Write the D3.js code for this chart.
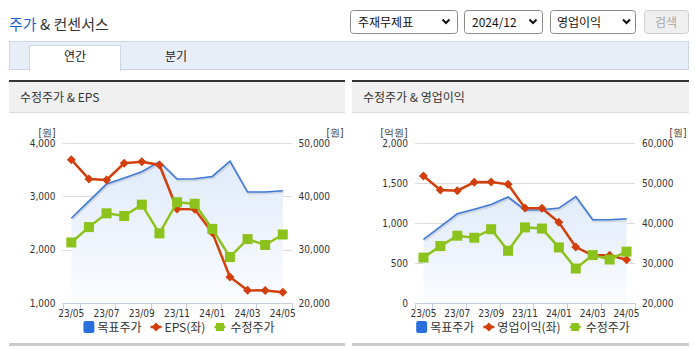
<!DOCTYPE html>
<html><head><meta charset="utf-8">
<script src="https://cdn.jsdelivr.net/npm/d3@7"></script>
<style>
html,body{margin:0;padding:0;background:#fff;}
svg{display:block;}
text{font-family:"Noto Sans CJK KR","Noto Sans",sans-serif;}
.num{font-family:"Liberation Sans Narrow","DejaVu Sans Condensed","Liberation Sans",sans-serif;font-size:10px;fill:#333;}
</style></head><body><svg id="c" width="695" height="349"></svg>
<script>
// ---------- data ----------
const months = ["23/05","23/06","23/07","23/08","23/09","23/10","23/11","23/12","24/01","24/02","24/03","24/04","24/05"];
const xTickLabels = ["23/05","23/07","23/09","23/11","24/01","24/03","24/05"];
const targetPrice = [35900,39100,42300,43450,44600,46500,43250,43300,43730,46600,40800,40800,41050];
const adjPrice = [31350,34230,36820,36310,38440,33060,38900,38610,33900,28620,31980,30880,32840];
const eps = [3687,3325,3306,3619,3650,3588,2763,2758,2319,1488,1238,1235,1200];
const opIncome = [1587,1412,1404,1508,1512,1483,1187,1183,1008,700,596,596,541];
const epsTicks = [1000,2000,3000,4000];
const priceTicks1 = [20000,30000,40000,50000];
const opTicks = [0,500,1000,1500,2000];
const priceTicks2 = [20000,30000,40000,50000,60000];
const selectTexts = ["주재무제표","2024/12","영업이익"];
const tabs = ["연간","분기"];

const svg = d3.select("#c");
const defs = svg.append("defs");

// ---------- header ----------
const title = svg.append("text").attr("x",9).attr("y",30).style("font-size","15px");
title.append("tspan").attr("fill","#1f5fd0").text("주가");
title.append("tspan").attr("fill","#333").text(" & 컨센서스");

const selBoxes = [[350,458,358,446],[464,543,472,533],[550,636,557,626.5]];
selBoxes.forEach((b,i)=>{
  svg.append("rect").attr("x",b[0]+0.5).attr("y",10.5).attr("width",b[1]-b[0]-1).attr("height",23)
    .attr("rx",3).attr("fill","#fff").attr("stroke","#8a8a8a");
  svg.append("text").attr("x",b[2]).attr("y",27).style("font-size","12px").attr("fill","#111").text(selectTexts[i]);
  svg.append("path").attr("d",`M${b[3]-3.5},${19.5} L${b[3]},${23} L${b[3]+3.5},${19.5}`)
    .attr("fill","none").attr("stroke","#111").attr("stroke-width",2);
});
svg.append("rect").attr("x",644.5).attr("y",10.5).attr("width",44).attr("height",23).attr("rx",3)
  .attr("fill","#efefef").attr("stroke","#d0d0d0");
svg.append("text").attr("x",666).attr("y",27).attr("text-anchor","middle").style("font-size","12px").attr("fill","#a8a8a8").text("검색");

// tabs
svg.append("rect").attr("x",9.5).attr("y",41.5).attr("width",679).attr("height",28).attr("fill","#e8eef8").attr("stroke","#cdd6e4");
svg.append("rect").attr("x",29.5).attr("y",45.5).attr("width",91).attr("height",25).attr("fill","#fff").attr("stroke","#cdd6e4");
svg.append("rect").attr("x",30).attr("y",69).attr("width",90).attr("height",2).attr("fill","#fff");
svg.append("text").attr("x",75).attr("y",61).attr("text-anchor","middle").style("font-size","12px").attr("fill","#222").text(tabs[0]);
svg.append("text").attr("x",176).attr("y",61).attr("text-anchor","middle").style("font-size","12px").attr("fill","#222").text(tabs[1]);

// gradient
const grad = defs.append("linearGradient").attr("id","ag").attr("x1",0).attr("y1",0).attr("x2",0).attr("y2",1);
grad.append("stop").attr("offset",0).attr("stop-color","#e0ebfa");
grad.append("stop").attr("offset",1).attr("stop-color","#fbfcff");

function drawChart(o){
  const g = svg.append("g");
  // panel
  g.append("rect").attr("x",o.px0).attr("y",80).attr("width",o.px1-o.px0).attr("height",2).attr("fill","#333");
  g.append("rect").attr("x",o.px0).attr("y",82).attr("width",o.px1-o.px0).attr("height",30).attr("fill","#f0f0f0");
  g.append("rect").attr("x",o.px0).attr("y",112).attr("width",o.px1-o.px0).attr("height",1).attr("fill","#dcdcdc");
  g.append("text").attr("x",o.px0+11).attr("y",102).style("font-size","12px").attr("fill","#333").text(o.title);
  g.append("rect").attr("x",o.px0).attr("y",343).attr("width",o.px1-o.px0).attr("height",3).attr("fill","#cbcbcb");

  const top=143, bot=303;
  const x = d3.scaleBand().domain(months).range([o.x0,o.x1]).padding(0);
  const cx = m => x(m)+x.bandwidth()/2;
  const yL = d3.scaleLinear().domain(d3.extent(o.leftTicks)).range([bot,top]);
  const yR = d3.scaleLinear().domain(d3.extent(o.rightTicks)).range([bot,top]);

  // grid
  g.selectAll(".grid").data(o.leftTicks).join("line")
    .attr("x1",o.x0).attr("x2",o.x1).attr("y1",d=>Math.round(yL(d))+0.5).attr("y2",d=>Math.round(yL(d))+0.5)
    .attr("stroke","#dadada");

  // area + target price
  const tp = months.map((m,i)=>({m,v:targetPrice[i]}));
  g.append("path").datum(tp).attr("fill","url(#ag)")
    .attr("d",d3.area().x(d=>cx(d.m)).y0(bot).y1(d=>yR(d.v)));
  const lineR = d3.line().x(d=>cx(d.m)).y(d=>yR(d.v));
  g.append("path").datum(tp).attr("fill","none").attr("stroke","rgba(0,0,0,0.10)").attr("stroke-width",3)
    .attr("transform","translate(1,1)").attr("d",lineR);
  g.append("path").datum(tp).attr("fill","none").attr("stroke","#3f7ad8").attr("stroke-width",1.6).attr("d",lineR);

  // red series (left axis)
  const rs = months.map((m,i)=>({m,v:o.redData[i]}));
  g.append("path").datum(rs).attr("fill","none").attr("stroke","#d23f0c").attr("stroke-width",2.5)
    .attr("d",d3.line().x(d=>cx(d.m)).y(d=>yL(d.v)));
  g.selectAll(".dia").data(rs).join("path")
    .attr("d",d=>{const X=cx(d.m),Y=yL(d.v),r=4.5;return `M${X},${Y-r}L${X+r},${Y}L${X},${Y+r}L${X-r},${Y}Z`;})
    .attr("fill","#d23f0c");

  // green series (right axis)
  const gs = months.map((m,i)=>({m,v:adjPrice[i]}));
  g.append("path").datum(gs).attr("fill","none").attr("stroke","#8cc21c").attr("stroke-width",2.5)
    .attr("d",lineR);
  g.selectAll(".sq").data(gs).join("rect")
    .attr("x",d=>cx(d.m)-5).attr("y",d=>yR(d.v)-5).attr("width",10).attr("height",10).attr("fill","#8cc21c");

  // x axis
  g.append("line").attr("x1",o.x0).attr("x2",o.x1).attr("y1",bot+0.5).attr("y2",bot+0.5).attr("stroke","#c3cfe0");
  const tickXs = [o.x0].concat(months.filter((m,i)=>i%2===0).map(m=>x(m)+x.bandwidth()));
  g.selectAll(".tk").data(tickXs).join("line")
    .attr("x1",d=>Math.round(d)+0.5).attr("x2",d=>Math.round(d)+0.5).attr("y1",bot).attr("y2",bot+6).attr("stroke","#c3cfe0");
  const xa = g.append("g").attr("transform",`translate(0,${bot})`)
    .call(d3.axisBottom(x).tickValues(xTickLabels).tickSize(0).tickPadding(7));
  xa.select(".domain").remove();
  xa.selectAll("text").attr("class","num").attr("fill","#333");

  // y axes
  const la = g.append("g").attr("transform",`translate(${o.x0},0)`)
    .call(d3.axisLeft(yL).tickValues(o.leftTicks).tickSize(0).tickPadding(7).tickFormat(d3.format(",")));
  la.select(".domain").remove();
  la.selectAll("text").attr("class","num").attr("fill","#333");
  const ra = g.append("g").attr("transform",`translate(${o.x1},0)`)
    .call(d3.axisRight(yR).tickValues(o.rightTicks).tickSize(0).tickPadding(7).tickFormat(d3.format(",")));
  ra.select(".domain").remove();
  ra.selectAll("text").attr("class","num").attr("fill","#333");

  g.append("text").attr("class","num").attr("x",o.unitLx).attr("y",136).attr("text-anchor","middle").text(o.unitL);
  g.append("text").attr("class","num").attr("x",o.unitRx).attr("y",136).attr("text-anchor","middle").text(o.unitR);

  // legend
  const lg = g.append("g");
  let cur = 0;
  const ly = 327;
  lg.append("rect").attr("x",cur).attr("y",ly-6).attr("width",11).attr("height",12).attr("rx",2).attr("fill","#2a6fdb");
  cur += 14;
  let t = lg.append("text").attr("x",cur).attr("y",ly+5).style("font-size","12px").attr("fill","#333").text("목표주가");
  cur += t.node().getComputedTextLength()+9;
  lg.append("line").attr("x1",cur).attr("x2",cur+11).attr("y1",ly).attr("y2",ly).attr("stroke","#d23f0c").attr("stroke-width",2.5);
  lg.append("path").attr("d",`M${cur+5.5},${ly-4.5}L${cur+10},${ly}L${cur+5.5},${ly+4.5}L${cur+1},${ly}Z`).attr("fill","#d23f0c");
  cur += 14;
  t = lg.append("text").attr("x",cur).attr("y",ly+5).style("font-size","12px").attr("fill","#333").text(o.redName);
  cur += t.node().getComputedTextLength()+9;
  lg.append("line").attr("x1",cur).attr("x2",cur+11).attr("y1",ly).attr("y2",ly).attr("stroke","#8cc21c").attr("stroke-width",2.5);
  lg.append("rect").attr("x",cur+1.5).attr("y",ly-4).attr("width",8).attr("height",8).attr("fill","#8cc21c");
  cur += 16;
  t = lg.append("text").attr("x",cur).attr("y",ly+5).style("font-size","12px").attr("fill","#333").text("수정주가");
  cur += t.node().getComputedTextLength();
  lg.attr("transform",`translate(${o.legendCenter-cur/2},0)`);
}

drawChart({px0:9,px1:345,title:"수정주가 & EPS",x0:62.5,x1:291.6,leftTicks:epsTicks,rightTicks:priceTicks1,
  redData:eps,redName:"EPS(좌)",unitL:"[원]",unitLx:47,unitR:"[원]",unitRx:335,legendCenter:179});
drawChart({px0:352,px1:689,title:"수정주가 & 영업이익",x0:415,x1:635,leftTicks:opTicks,rightTicks:priceTicks2,
  redData:opIncome,redName:"영업이익(좌)",unitL:"[억원]",unitLx:394,unitR:"[원]",unitRx:678,legendCenter:523});
</script></body></html>
